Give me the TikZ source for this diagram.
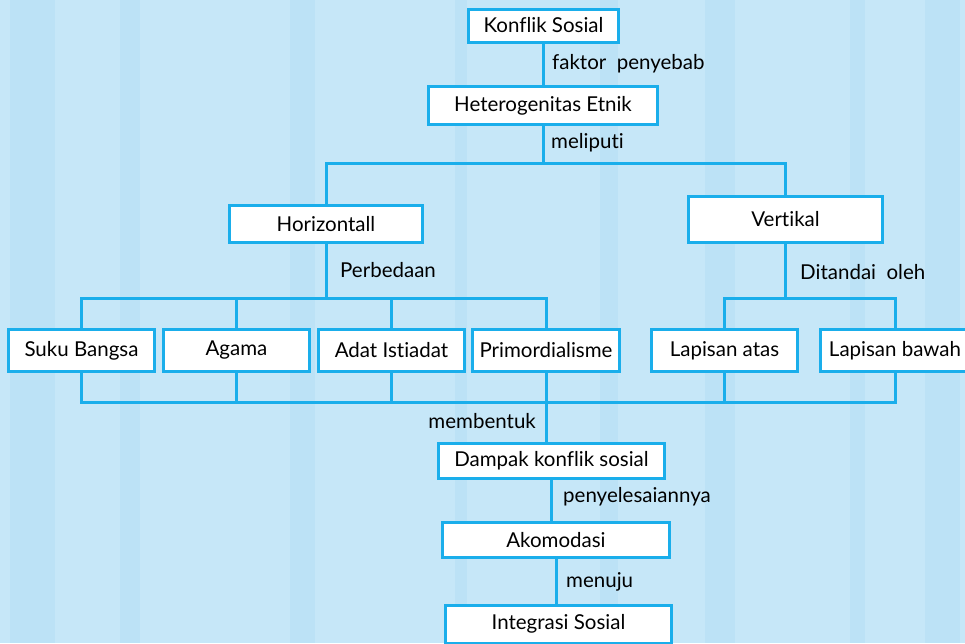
\documentclass[tikz,border=0pt]{standalone}
\usepackage{fontspec}
\setmainfont[Ligatures=CommonOff]{Lato}
\usetikzlibrary{positioning}

\definecolor{bgblue}{RGB}{198,231,248}
\definecolor{grain}{RGB}{160,215,244}
\definecolor{linkblue}{RGB}{26,174,235}

\tikzset{
  box/.style={draw=linkblue, line width=3pt, fill=white, minimum height=37pt, inner sep=2pt, text=black},
  tag/.style={inner sep=0pt, text=black},
  link/.style={draw=linkblue, line width=3pt}
}

\begin{document}
\begin{tikzpicture}[x=1pt,y=-1pt,font=\fontsize{20.5}{24}\selectfont]
 \useasboundingbox (0,0) rectangle (965,643);
 \clip (0,0) rectangle (965,643);

 %Background
 \fill[bgblue] (0,0) rectangle (965,643);
 \foreach \x/\w in {10/45,120/20,290/25,455/12,600/18,705/30,850/15,925/35}
   \fill[grain,opacity=0.25] (\x,0) rectangle ++(\w,643);

 %Nodes
 \node (konflik) [box, minimum width=150pt, minimum height=33pt] at (543.5,25.5) {Konflik Sosial};
 \node (hetero) [box, minimum width=229pt, minimum height=38pt] at (543,105.5) {Heterogenitas Etnik};
 \node (horiz) [box, minimum width=193pt] at (326,224) {Horizontall};
 \node (vert) [box, minimum width=194pt, minimum height=46pt] at (785.5,219.5) {Vertikal};

 \node (suku) [box, minimum width=146pt, minimum height=42pt] at (81.5,350.5) {Suku Bangsa};
 \node (agama) [box, minimum width=146pt, minimum height=42pt] at (236.5,350.5) {Agama};
 \node (adat) [box, minimum width=146pt, minimum height=42pt] at (391.5,350.5) {Adat Istiadat};
 \node (primo) [box, minimum width=147pt, minimum height=42pt] at (546,350.5) {Primordialisme};
 \node (atas) [box, minimum width=146pt, minimum height=42pt] at (724.5,350.5) {Lapisan atas};
 \node (bawah) [box, minimum width=150pt, minimum height=42pt] at (895,350.5) {Lapisan bawah};

 \node (dampak) [box, minimum width=226pt, minimum height=35pt] at (551.5,461) {Dampak konflik sosial};
 \node (akomodasi) [box, minimum width=227pt, minimum height=35pt] at (556,540) {Akomodasi};
 \node (integrasi) [box, minimum width=226pt, minimum height=38pt] at (558.5,624) {Integrasi Sosial};

 %Coordinates
 \coordinate (bus1) at (0,163);
 \coordinate (bus2) at (0,298);
 \coordinate (bus3) at (0,402);

 %Lines
 \draw[link] (konflik.south) -- (konflik.south |- hetero.north);
 \draw[link] (hetero.south) -- (hetero.south |- bus1);
 \draw[link] (horiz.north) -- (horiz.north |- bus1) -- (vert.north |- bus1) -- (vert.north);

 \draw[link] (horiz.south) -- (horiz.south |- bus2);
 \draw[link] (suku.north) -- (suku.north |- bus2) -- (primo.north |- bus2) -- (primo.north);
 \foreach \n in {agama,adat}
   \draw[link] (\n.north) -- (\n.north |- bus2);

 \draw[link] (vert.south) -- (vert.south |- bus2);
 \draw[link] (atas.north) -- (atas.north |- bus2) -- (bawah.north |- bus2) -- (bawah.north);

 \draw[link] (suku.south) -- (suku.south |- bus3) -- (bawah.south |- bus3) -- (bawah.south);
 \foreach \n in {agama,adat,atas}
   \draw[link] (\n.south) -- (\n.south |- bus3);
 \draw[link] (primo.south) -- (primo.south |- dampak.north);
 \draw[link] (dampak.south) -- (dampak.south |- akomodasi.north);
 \draw[link] (akomodasi.south) -- (akomodasi.south |- integrasi.north);

 %Labels
 \node (faktor) [tag, anchor=west] at (552,64) {faktor\ \ penyebab};
 \node (meliputi) [tag, anchor=west] at (551,143) {meliputi};
 \node (perbedaan) [tag, anchor=west] at (340,270) {Perbedaan};
 \node (ditandai) [tag, anchor=west] at (800,272) {Ditandai\ \ oleh};
 \node (membentuk) [tag, anchor=east] at (536,421) {membentuk};
 \node (penyelesaian) [tag, anchor=west] at (563,497) {penyelesaiannya};
 \node (menuju) [tag, anchor=west] at (566,582) {menuju};
\end{tikzpicture}
\end{document}
